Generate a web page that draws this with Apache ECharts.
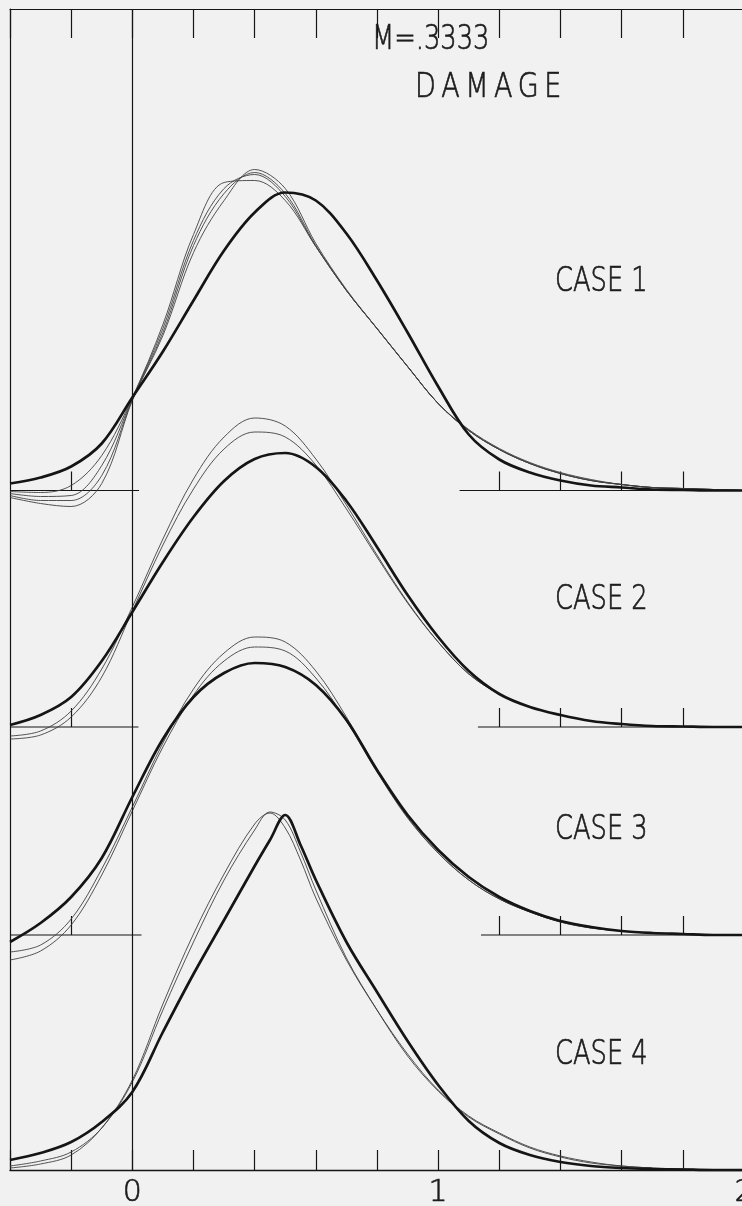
<!DOCTYPE html>
<html><head><meta charset="utf-8">
<script src="https://cdn.jsdelivr.net/npm/echarts@6/dist/echarts.min.js"></script>
<style>html,body{margin:0;padding:0;background:#f1f1f1;}#c{width:742px;height:1206px;}</style>
</head><body><div id="c"></div>
<script>
// x positions (shared by cases 1-3) and a finer set for the peaked case 4
const xs = [-0.4,-0.3,-0.2,-0.1,0,0.1,0.2,0.3,0.4,0.5,0.6,0.7,0.8,0.9,1.0,1.1,1.2,1.3,1.4,1.5,1.6,1.7,1.8,1.9,2.0];
const xs4 = [-0.4,-0.3,-0.2,-0.1,0,0.1,0.2,0.3,0.4,0.45,0.5,0.55,0.6,0.7,0.8,0.9,1.0,1.1,1.2,1.3,1.4,1.5,1.6,1.7,1.8,1.9,2.0];

// CASE 1
const case1Thick = [0.07,0.13,0.24,0.47,0.93,1.39,1.90,2.40,2.78,2.98,2.90,2.57,2.10,1.58,1.04,0.56,0.31,0.18,0.10,0.05,0.03,0.01,0.005,0,0];
const case1ThinA = [-0.01,-0.02,0.05,0.35,0.93,1.66,2.56,3.08,3.10,2.90,2.44,2.00,1.62,1.24,0.87,0.60,0.41,0.27,0.17,0.10,0.06,0.03,0.02,0.01,0];
const case1ThinB = [-0.03,-0.06,-0.05,0.25,0.92,1.62,2.50,3.02,3.16,2.94,2.44,2.00,1.62,1.24,0.87,0.61,0.42,0.28,0.18,0.11,0.06,0.03,0.02,0.01,0];
const case1ThinC = [-0.05,-0.10,-0.10,0.15,0.91,1.58,2.45,2.97,3.18,2.97,2.45,2.00,1.62,1.24,0.87,0.60,0.41,0.27,0.17,0.10,0.06,0.03,0.02,0.01,0];
const case1ThinD = [-0.07,-0.13,-0.16,0.07,0.90,1.55,2.38,2.90,3.21,3.02,2.47,2.01,1.62,1.24,0.87,0.60,0.41,0.27,0.17,0.10,0.06,0.03,0.02,0.01,0];

// CASE 2
const case2Thick = [0.02,0.12,0.30,0.66,1.15,1.65,2.10,2.46,2.68,2.74,2.60,2.26,1.80,1.32,0.90,0.56,0.33,0.20,0.12,0.06,0.03,0.01,0.005,0,0];
const case2ThinA = [-0.09,-0.04,0.16,0.58,1.20,1.88,2.48,2.90,3.09,3.01,2.68,2.22,1.72,1.25,0.85,0.53,0.33,0.20,0.12,0.06,0.03,0.01,0.005,0,0];
const case2ThinB = [-0.12,-0.08,0.10,0.50,1.16,1.82,2.38,2.78,2.95,2.90,2.62,2.18,1.70,1.24,0.85,0.53,0.33,0.20,0.12,0.06,0.03,0.01,0.005,0,0];

// CASE 3
const case3Thick = [-0.07,0.12,0.38,0.77,1.38,1.96,2.38,2.62,2.72,2.68,2.50,2.15,1.65,1.20,0.85,0.58,0.38,0.24,0.14,0.08,0.04,0.02,0.01,0,0];
const case3ThinA = [-0.17,-0.10,0.16,0.66,1.28,1.92,2.46,2.82,2.98,2.93,2.64,2.18,1.65,1.18,0.82,0.55,0.36,0.23,0.13,0.07,0.04,0.02,0.01,0,0];
const case3ThinB = [-0.25,-0.16,0.10,0.60,1.24,1.88,2.40,2.74,2.88,2.84,2.57,2.14,1.63,1.17,0.82,0.55,0.36,0.23,0.13,0.07,0.04,0.02,0.01,0,0];

// CASE 4
const case4Thick = [0.10,0.17,0.28,0.48,0.78,1.38,1.96,2.50,3.04,3.30,3.55,3.25,2.90,2.28,1.78,1.29,0.85,0.49,0.27,0.15,0.08,0.04,0.02,0.01,0.005,0,0];
const case4ThinA = [0.04,0.09,0.18,0.42,0.88,1.60,2.28,2.90,3.40,3.58,3.50,3.18,2.80,2.12,1.60,1.14,0.79,0.53,0.36,0.22,0.13,0.07,0.04,0.02,0.01,0,0];
const case4ThinB = [0.02,0.06,0.15,0.42,0.90,1.66,2.36,2.96,3.46,3.57,3.42,3.10,2.72,2.10,1.60,1.16,0.80,0.54,0.37,0.23,0.14,0.08,0.04,0.02,0.01,0,0];

// tick values
const tickStep = 0.2;              // ticks on top frame and bottom axis
const bottomLabels = [0, 1, 2];
const caseTicks = [-0.2, 1.2, 1.4, 1.6, 1.8];
// gaps in the case baselines (left end / right start)
const caseGaps = [[0.022, 1.07], [0.02, 1.13], [0.03, 1.14]];
const caseLabels = ['CASE 1', 'CASE 2', 'CASE 3', 'CASE 4'];

const INK = '#151515';
const THIN = '#404040';
const SMOOTH = 0.35;
const baselines = [490.5, 727, 935, 1170];
const Y_MIN = -0.5, Y_MAX = 4.0, PX_PER_UNIT = 100;

const chart = echarts.init(document.getElementById('c'), null, {renderer: 'canvas'});

const grids = [], xAxes = [], yAxes = [], series = [];
const pair = (x, y) => x.map((v, i) => [v, y[i]]);

const cases = [
  {x: xs, thick: case1Thick, thin: [case1ThinA, case1ThinB, case1ThinC, case1ThinD]},
  {x: xs, thick: case2Thick, thin: [case2ThinA, case2ThinB]},
  {x: xs, thick: case3Thick, thin: [case3ThinA, case3ThinB]},
  {x: xs4, thick: case4Thick, thin: [case4ThinA, case4ThinB]}
];

cases.forEach((c, i) => {
  const B = baselines[i];
  grids.push({left: 10, width: 734, top: B - Y_MAX * PX_PER_UNIT, height: (Y_MAX - Y_MIN) * PX_PER_UNIT,
    containLabel: false, outerBoundsMode: 'none'});
  const hasTicks = i < 3;
  xAxes.push({
    gridIndex: i, type: 'value', min: -0.4, max: 2.0,
    axisLine: {show: false, onZero: true},
    axisTick: {show: hasTicks, inside: true, length: 19, customValues: caseTicks, lineStyle: {color: INK, width: 1.2}},
    axisLabel: {show: false}, splitLine: {show: false}
  });
  yAxes.push({gridIndex: i, type: 'value', min: Y_MIN, max: Y_MAX, show: false, splitLine: {show: false}});
  c.thin.forEach(arr => series.push({
    type: 'line', xAxisIndex: i, yAxisIndex: i, data: pair(c.x, arr), smooth: SMOOTH,
    symbol: 'none', lineStyle: {color: THIN, width: 0.9}, silent: true, z: 2
  }));
  series.push({
    type: 'line', xAxisIndex: i, yAxisIndex: i, data: pair(c.x, c.thick), smooth: SMOOTH,
    symbol: 'none', lineStyle: {color: INK, width: 2.7}, silent: true, z: 3
  });
  if (i < 3) {
    const g = caseGaps[i];
    series.push({
      type: 'line', xAxisIndex: i, yAxisIndex: i,
      data: [[-0.4, 0], [g[0], 0], [g[0], '-'], [g[1], 0], [2.0, 0]],
      connectNulls: false, symbol: 'none', lineStyle: {color: INK, width: 1.2}, silent: true, z: 1
    });
  }
});

// frame grid: top frame with ticks, left border, bottom axis with 0,1,2
const F = 4;
grids.push({left: 10, width: 734, top: 9, height: 1161, containLabel: false, outerBoundsMode: 'none'});
xAxes.push({
  gridIndex: F, type: 'value', position: 'top', min: -0.4, max: 2.0, interval: tickStep,
  axisLine: {show: true, onZero: false, lineStyle: {color: INK, width: 1.2}},
  axisTick: {show: true, inside: true, length: 29, lineStyle: {color: INK, width: 1.2}},
  axisLabel: {show: false}, splitLine: {show: false}
});
xAxes.push({
  gridIndex: F, type: 'value', position: 'bottom', min: -0.4, max: 2.0, interval: tickStep,
  axisLine: {show: true, onZero: false, lineStyle: {color: INK, width: 1.4}},
  axisTick: {show: true, inside: true, length: 20, lineStyle: {color: INK, width: 1.2}},
  axisLabel: {show: true, margin: 8, color: '#1c1c1c', fontSize: 30, fontFamily: 'DejaVu Sans', fontWeight: 200,
    textBorderColor: '#1c1c1c', textBorderWidth: 0.6,
    formatter: v => bottomLabels.some(b => Math.abs(b - v) < 1e-6) ? String(Math.round(v)) : ''},
  splitLine: {show: false}
});
yAxes.push({
  gridIndex: F, type: 'value', min: 0, max: 1,
  axisLine: {show: true, onZero: false, lineStyle: {color: INK, width: 1.2}},
  axisTick: {show: false}, axisLabel: {show: false}, splitLine: {show: false}
});
series.push({
  type: 'line', xAxisIndex: 4, yAxisIndex: 4, data: [], symbol: 'none',
  markLine: {silent: true, symbol: 'none', label: {show: false},
    lineStyle: {type: 'solid', color: INK, width: 1.2}, data: [{xAxis: 0}]}
});

const textStyle = (s) => Object.assign({fill: '#1c1c1c', stroke: '#1c1c1c', lineWidth: 0.7,
  fontFamily: 'DejaVu Sans', fontWeight: 200, align: 'left', verticalAlign: 'middle'}, s);
const graphics = [
  {type: 'text', x: 372, y: 40, scaleX: 0.78, style: textStyle({text: 'M=.3333', fontSize: 33})},
  {type: 'text', x: 415, y: 88, scaleX: 0.82, style: textStyle({text: 'D\u2009A\u2009M\u2009A\u2009G\u2009E', fontSize: 33})}
];
const labelY = [282, 600, 830, 1055];
caseLabels.forEach((t, i) => graphics.push({type: 'text', x: 555, y: labelY[i], scaleX: 0.78,
  style: textStyle({text: t, fontSize: 33})}));

chart.setOption({
  backgroundColor: '#f1f1f1',
  animation: false,
  grid: grids, xAxis: xAxes, yAxis: yAxes, series: series,
  graphic: graphics
});
</script></body></html>
